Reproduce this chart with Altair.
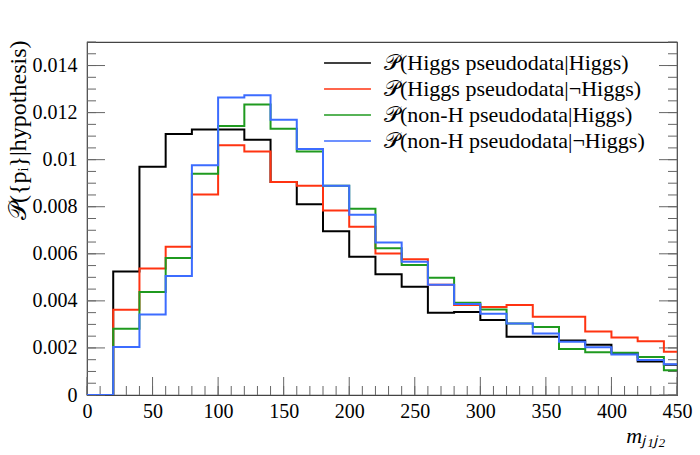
import altair as alt
import pandas as pd

# ---- data (bin starts, last bin clipped at 450) ----
bin_starts = [0, 20, 40, 60, 80, 100, 120, 140, 160, 180, 200, 220, 240,
              260, 280, 300, 320, 340, 360, 380, 400, 420, 440]
x_end = 450

series_names = [
    "𝒫(Higgs pseudodata|Higgs)",
    "𝒫(Higgs pseudodata|¬Higgs)",
    "𝒫(non-H pseudodata|Higgs)",
    "𝒫(non-H pseudodata|¬Higgs)",
]
series_colors = ["#000000", "#ff3311", "#1f9a1f", "#3c6cff"]

higgs_higgs = [0, 0.00525, 0.00970, 0.01109, 0.01128, 0.01128, 0.01085, 0.00905,
               0.00811, 0.00696, 0.00587, 0.00513, 0.00460, 0.00350, 0.00353,
               0.00319, 0.00248, 0.00248, 0.00232, 0.00213, 0.00177, 0.00142, 0.00129]
higgs_not = [0, 0.00362, 0.00538, 0.00630, 0.00852, 0.01061, 0.01035, 0.00905,
             0.00889, 0.00784, 0.00715, 0.00601, 0.00577, 0.00469, 0.00382,
             0.00374, 0.00382, 0.00333, 0.00333, 0.00270, 0.00244, 0.00228, 0.00184]
nonh_higgs = [0, 0.00281, 0.00438, 0.00582, 0.00940, 0.01143, 0.01234, 0.01131,
              0.01035, 0.00889, 0.00791, 0.00624, 0.00552, 0.00498, 0.00392,
              0.00363, 0.00304, 0.00289, 0.00196, 0.00182, 0.00180, 0.00162, 0.00105]
nonh_not = [0, 0.00204, 0.00342, 0.00506, 0.00976, 0.01264, 0.01274, 0.01170,
            0.01045, 0.00889, 0.00766, 0.00648, 0.00566, 0.00469, 0.00387,
            0.00345, 0.00304, 0.00261, 0.00226, 0.00203, 0.00172, 0.00149, 0.00131]

x_major_ticks = list(range(0, 451, 50))
x_minor_ticks = list(range(0, 451, 10))
y_major_ticks = [0, 0.002, 0.004, 0.006, 0.008, 0.010, 0.012, 0.014]
y_minor_ticks = [round(i * 0.0005, 4) for i in range(0, 31)]

# ---- build table ----
rows = []
for k, (name, vals) in enumerate(zip(series_names,
                                     [higgs_higgs, higgs_not, nonh_higgs, nonh_not])):
    for e, v in zip(bin_starts, vals):
        rows.append({"x": e, "y": v, "series": name, "k": k})
    rows.append({"x": x_end, "y": vals[-1], "series": name, "k": k})
df = pd.DataFrame(rows)

W, H = 590, 353
FONT = "Liberation Serif"
TICK = "#666666"

xscale = alt.Scale(domain=[0, 450], nice=False, zero=False)
yscale = alt.Scale(domain=[0, 0.015], nice=False)

label_expr = ("datum.value == 0 ? '0' : datum.value == 0.01 ? '0.01' : "
              "format(datum.value, '.3f')")

x_axis = alt.Axis(values=x_major_ticks, ticks=False, domain=False, grid=False,
                  labelFont=FONT, labelFontSize=20, labelPadding=6,
                  labelColor="#000", labelFlush=False,
                  title="mⱼ₁ⱼ₂", titleFont=FONT, titleFontSize=22,
                  titleFontStyle="italic", titleFontWeight="normal",
                  titleAnchor="end", titleAlign="right", titleBaseline="alphabetic",
                  titleX=W - 12, titleY=47, titleColor="#000")
y_axis = alt.Axis(values=y_major_ticks, ticks=False, domain=False, grid=False,
                  labelExpr=label_expr, labelFont=FONT, labelFontSize=20,
                  labelPadding=10, labelColor="#000",
                  title="𝒫({pᵢ}|hypothesis)", titleFont=FONT, titleFontSize=24,
                  titleFontWeight="normal", titleAngle=270,
                  titleAlign="right", titleBaseline="middle",
                  titleX=-69, titleY=-2, titleColor="#000")

lines = alt.Chart(df).mark_line(interpolate="step-after", strokeWidth=2, clip=True).encode(
    x=alt.X("x:Q", scale=xscale, axis=x_axis),
    y=alt.Y("y:Q", scale=yscale, axis=y_axis),
    color=alt.Color("series:N",
                    scale=alt.Scale(domain=series_names, range=series_colors),
                    sort=series_names,
                    legend=alt.Legend(title=None, orient="none", legendX=236, legendY=8,
                                      symbolType="stroke", symbolSize=2200,
                                      symbolStrokeWidth=1.6, clipHeight=26,
                                      labelFont=FONT, labelFontSize=22, labelOffset=12,
                                      labelColor="#000", rowPadding=0,
                                      labelLimit=400)),
    order=alt.Order("k:Q"),
)

xmaj = pd.DataFrame({"v": x_major_ticks})
xmin = pd.DataFrame({"v": x_minor_ticks})
ymaj = pd.DataFrame({"v": y_major_ticks})
ymin = pd.DataFrame({"v": y_minor_ticks})

def xticks(d, length):
    return alt.Chart(d).mark_rule(color=TICK, strokeWidth=1).encode(
        x=alt.X("v:Q", scale=xscale, axis=x_axis),
        y=alt.value(H), y2=alt.value(H - length))

def yticks(d, length, right=False):
    x0, x1 = (W, W - length) if right else (0, length)
    return alt.Chart(d).mark_rule(color=TICK, strokeWidth=1).encode(
        y=alt.Y("v:Q", scale=yscale, axis=y_axis),
        x=alt.value(x0), x2=alt.value(x1))

chart = alt.layer(
    xticks(xmin, 9), xticks(xmaj, 18),
    yticks(ymin, 9), yticks(ymaj, 18),
    yticks(ymin, 9, True), yticks(ymaj, 18, True),
    lines,
).properties(
    width=W, height=H,
    padding={"left": 87, "top": 42, "right": 23, "bottom": 60},
    autosize=alt.AutoSizeParams(type="none"),
    background="white",
).configure_view(stroke="#444444", strokeWidth=1.2)

chart.save("out.html", embed_options={"renderer": "svg", "actions": False})
